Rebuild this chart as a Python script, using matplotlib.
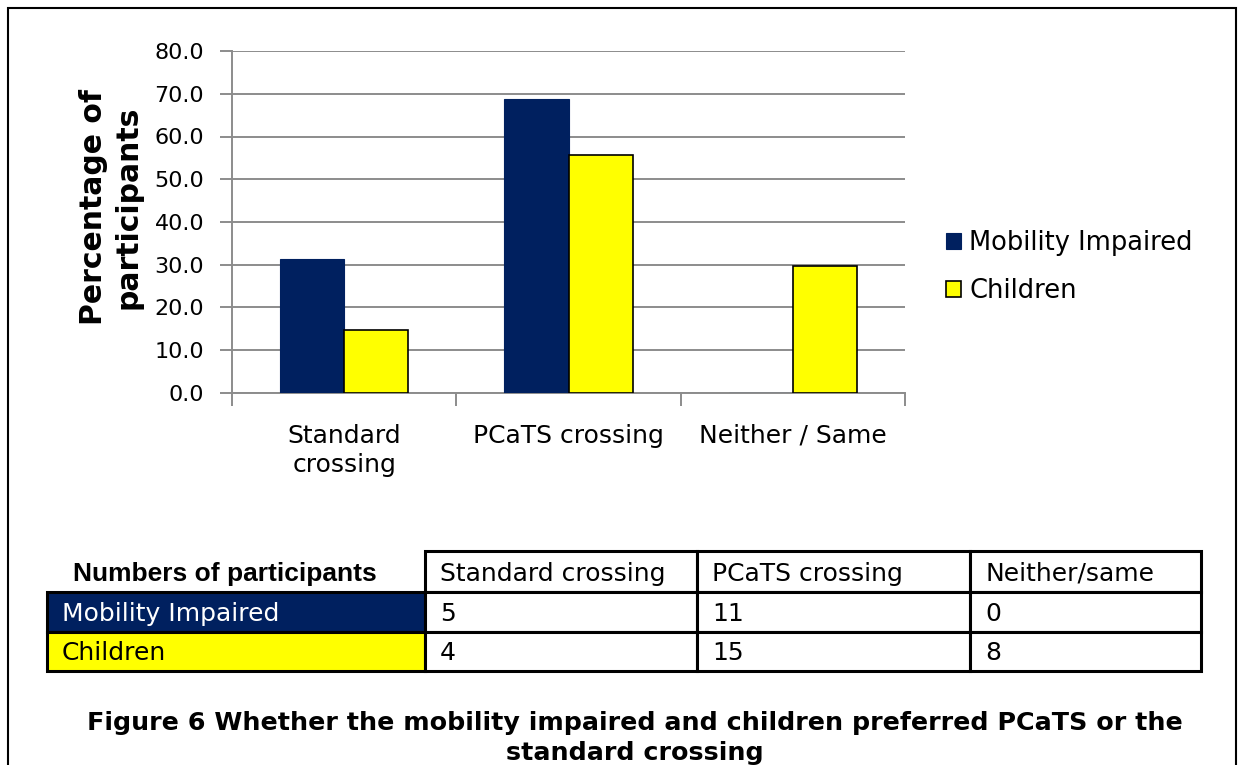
import numpy as np
import matplotlib
matplotlib.use("Agg")
import matplotlib.pyplot as plt
from matplotlib.patches import Rectangle

# data
categories = ["Standard\ncrossing", "PCaTS crossing", "Neither / Same"]
series_names = ["Mobility Impaired", "Children"]
mobility_pct = [31.25, 68.75, 0.0]
children_pct = [14.8, 55.6, 29.6]
table_cols = ["Standard crossing", "PCaTS crossing", "Neither/same"]
mobility_n = [5, 11, 0]
children_n = [4, 15, 8]
caption = ("Figure 6 Whether the mobility impaired and children preferred PCaTS or the\n"
           "standard crossing")

NAVY = "#00205F"
YELLOW = "#FFFF00"
GRID = "#8C8C8C"

W, H = 1241, 765
fig = plt.figure(figsize=(W / 100, H / 100), dpi=100)
plt.rcParams["font.family"] = ["DejaVu Sans"]


def fx(px):
    return px / W


def fy(py):
    return 1 - py / H


# outer frame
fig.patches.append(Rectangle((fx(8), -0.02), fx(1236) - fx(8), fy(8) + 0.02,
                             transform=fig.transFigure, fill=False,
                             edgecolor="black", linewidth=1.5))

# ============================================================
# BAR CHART
# ============================================================
ax = fig.add_axes([fx(232), fy(393), fx(905) - fx(232), fy(51) - fy(393)])
x = np.arange(len(categories))
bw = 0.286
ax.bar(x - bw / 2, mobility_pct, bw, color=NAVY, edgecolor=NAVY, linewidth=0.8,
       label=series_names[0], zorder=3)
ax.bar(x + bw / 2, children_pct, bw, color=YELLOW, edgecolor="black", linewidth=1.2,
       label=series_names[1], zorder=3)

ax.set_xlim(-0.5, len(categories) - 0.5)
ax.set_ylim(0, 80)
ax.set_yticks(np.arange(0, 81, 10))
ax.set_yticklabels([f"{v:.1f}" for v in np.arange(0, 81, 10)], fontsize=16)
ax.yaxis.grid(True, color=GRID, linewidth=1.4)
ax.set_axisbelow(True)
for side in ["top", "right"]:
    ax.spines[side].set_visible(False)
for side in ["left", "bottom"]:
    ax.spines[side].set_color(GRID)
    ax.spines[side].set_linewidth(1.4)
ax.tick_params(axis="y", length=9, width=1.4, color=GRID, pad=11)

ax.set_xticks(np.arange(-0.5, len(categories), 1.0))
ax.set_xticklabels([])
ax.tick_params(axis="x", length=9, width=1.4, color=GRID)
for i, cat in enumerate(categories):
    ax.text(i, -7.2, cat, ha="center", va="top", fontsize=18,
            linespacing=1.3)

fig.text(fx(111), fy(207), "Percentage of\nparticipants", rotation=90,
         ha="center", va="center", fontsize=21.5, fontweight="bold",
         linespacing=1.25)

ax.legend(loc="center left", bbox_to_anchor=(fx(946), fy(267)),
          bbox_transform=fig.transFigure,
          frameon=False, fontsize=18.5, handlelength=0.6, handleheight=0.6,
          handletextpad=0.3, labelspacing=0.85, borderaxespad=0, borderpad=0)

# ============================================================
# TABLE
# ============================================================
col_px = [47, 425, 697, 970, 1201]
row_px = [551, 592, 632, 671]
tab = fig.add_axes([0, 0, 1, 1], zorder=5)
tab.set_xlim(0, W)
tab.set_ylim(H, 0)
tab.axis("off")

rows = [
    ["Numbers of participants"] + table_cols,
    [series_names[0]] + [str(v) for v in mobility_n],
    [series_names[1]] + [str(v) for v in children_n],
]
fills = [None, NAVY, YELLOW]
txtcol = ["black", "white", "black"]

for r in range(3):
    for c in range(4):
        x0, x1 = col_px[c], col_px[c + 1]
        y0, y1 = row_px[r], row_px[r + 1]
        if r == 0 and c == 0:
            tab.text((x0 + x1) / 2 - 11, (y0 + y1) / 2 + 2, rows[r][c],
                     ha="center", va="center", fontsize=19,
                     fontweight="bold", family="Liberation Sans")
            continue
        fc = fills[r] if c == 0 and fills[r] else "white"
        tab.add_patch(Rectangle((x0, y0), x1 - x0, y1 - y0, facecolor=fc,
                                edgecolor="black", linewidth=2.2))
        tab.text(x0 + 15, (y0 + y1) / 2 + 2, rows[r][c], ha="left",
                 va="center", fontsize=18,
                 color=txtcol[r] if c == 0 else "black")

# caption
tab.text(635, 738, caption, ha="center", va="center", fontsize=18.3,
         fontweight="bold", linespacing=1.3)

fig.savefig("out.png", dpi=100)
